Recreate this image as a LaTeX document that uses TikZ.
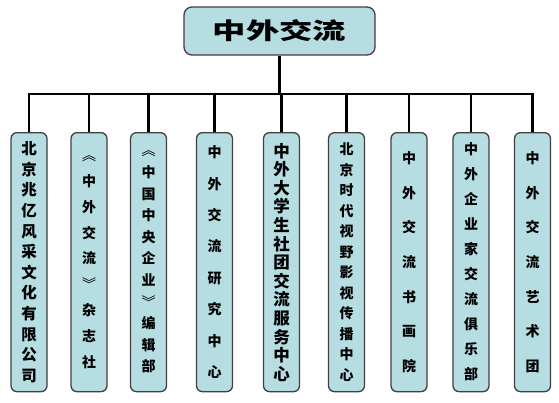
\documentclass[tikz,border=0pt]{standalone}
\usepackage{graphicx}
\usepackage{fontspec}
\newfontfamily\cjk{Noto Sans CJK SC}
\definecolor{boxfill}{RGB}{182,221,226}
\definecolor{boxline}{RGB}{64,64,64}
\newcommand{\lbr}{{\mdseries ︽}}
\newcommand{\rbr}{{\mdseries ︾}}
\tikzset{
  org/.style={draw=boxline, line width=1.3pt, fill=boxfill, rounded corners=6pt, inner sep=0pt, align=center},
  unit/.style={org, minimum width=36pt, minimum height=259pt, anchor=north},
  vt/.style 2 args={font=\cjk\bfseries\fontsize{#1}{#2}\selectfont},
  link/.style={line width=2.6pt, draw=black},
}
\begin{document}
\begin{tikzpicture}[x=1pt,y=-1pt]
\useasboundingbox (0,0) rectangle (559,402);
\fill[white] (0,0) rectangle (559,402);
\node[org, minimum width=191pt, minimum height=48pt, rounded corners=8pt] (top) at (279.5,31)
  {\cjk\bfseries\fontsize{23}{23}\selectfont\scalebox{1.45}[1]{中外交流}};
\coordinate (bar) at (279.5,94);

\node[unit, vt={15.5}{20.6}] (u1) at (29,132) {北\\京\\兆\\亿\\风\\采\\文\\化\\有\\限\\公\\司};
\node[unit, vt={14}{25.9}] (u2) at (89,132) {\lbr\\中\\外\\交\\流\\\rbr\\杂\\志\\社};
\node[unit, vt={14}{21.6}] (u3) at (148.5,132) {\lbr\\中\\国\\中\\央\\企\\业\\\rbr\\编\\辑\\部};
\node[unit, vt={14}{31.4}] (u4) at (214.5,132) {中\\外\\交\\流\\研\\究\\中\\心};
\node[unit, vt={16.5}{18.6}] (u5) at (281.5,132) {中\\外\\大\\学\\生\\社\\团\\交\\流\\服\\务\\中\\心};
\node[unit, vt={14}{20.5}] (u6) at (346.5,132) {北\\京\\时\\代\\视\\野\\影\\视\\传\\播\\中\\心};
\node[unit, vt={14}{34.7}] (u7) at (409,132) {中\\外\\交\\流\\书\\画\\院};
\node[unit, vt={14}{25}] (u8) at (471,132) {中\\外\\企\\业\\家\\交\\流\\俱\\乐\\部};
\node[unit, vt={14}{34.7}] (u9) at (532.5,132) {中\\外\\交\\流\\艺\\术\\团};

\draw[link] (top.south) -- (bar);
\draw[link] (u1.north) -- (u1.north |- bar) -- (u9.north |- bar) -- (u9.north);
\foreach \u in {u2,u3,u4,u5,u6,u7,u8}
  \draw[link] (\u.north |- bar) -- (\u.north);
\end{tikzpicture}
\end{document}
